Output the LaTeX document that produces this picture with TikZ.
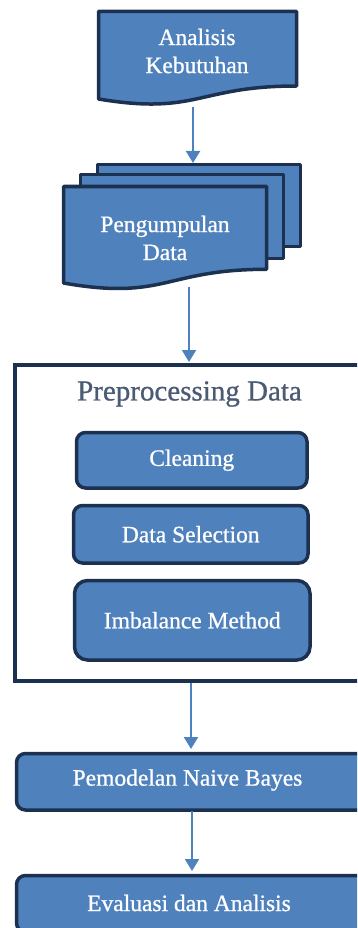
\documentclass[tikz,border=0pt]{standalone}
\usepackage{fontspec}
\setmainfont{Liberation Serif}
\newfontfamily\boxfont[FakeBold=0.8]{Liberation Serif}
\usetikzlibrary{arrows.meta}
\definecolor{steel}{HTML}{4F81BD}
\definecolor{navy}{HTML}{1C3150}
\definecolor{titlegray}{HTML}{4B5B74}
\newcommand{\mainsz}{\boxfont\fontsize{23.5}{28}\selectfont}
\newcommand{\titlesz}{\boxfont\fontsize{29}{34}\selectfont}
\tikzset{
  shapebox/.style={draw=navy, fill=steel, line width=3.5pt, line join=round},
  proc/.style={draw=navy, fill=steel, line width=3.5pt, rounded corners=9pt,
    text=white, font=\mainsz, inner sep=0pt, anchor=north west},
  doctext/.style={text=white, font=\mainsz, align=center, inner sep=0pt},
  frame/.style={draw=navy, line width=4pt},
  arr/.style={draw=steel, line width=2pt, -{Triangle[length=12pt,width=14pt]}},
}
\begin{document}
\begin{tikzpicture}[x=1pt,y=-1pt]
\clip (0,0) rectangle (357,928);
\fill[white] (0,0) rectangle (357,928);
% Analisis Kebutuhan (document shape)
\draw[shapebox] (98.5,11.5) -- (296.5,11.5) -- (296.5,86)
  .. controls (197.5,86) and (197.5,115.5) .. (98.5,99) -- cycle;
\node[doctext] (ana) at (197,51) {Analisis\\Kebutuhan};
% Pengumpulan Data (multi-document)
\draw[shapebox] (97.5,164.5) rectangle (300.5,246.5);
\draw[shapebox] (80.5,174.5) rectangle (283.5,258.5);
\draw[shapebox] (63.5,186.5) -- (266.5,186.5) -- (266.5,269.3)
  .. controls (165,269.3) and (165,300.9) .. (63.5,283) -- cycle;
\node[doctext] (peng) at (165,238) {Pengumpulan\\Data};
% Preprocessing frame
\draw[frame] (15,365) rectangle (372,680.5);
\node[text=titlegray, font=\titlesz, inner sep=0pt] (pre) at (189.5,394) {Preprocessing Data};
\node[proc, minimum width=230.5pt, minimum height=55.5pt] (clean) at (74.75,430.75) {Cleaning};
\node[proc, minimum width=234.5pt, minimum height=57.5pt] (sel) at (71.75,503.75) {Data Selection};
\node[proc, minimum width=235.5pt, minimum height=79.5pt, rounded corners=13pt] (imb) at (72.75,578.75) {Imbalance Method};
% bottom boxes
\node[proc, minimum width=350pt, minimum height=56.5pt] (model) at (14.75,751.75) {};
\node[text=white, font=\mainsz, inner sep=0pt] (modelt) at (187.5,780) {Pemodelan Naive Bayes};
\node[proc, minimum width=350pt, minimum height=56.5pt] (eval) at (14.75,873.75) {};
\node[text=white, font=\mainsz, inner sep=0pt] (evalt) at (189,903) {Evaluasi dan Analisis};
% connector end points
\coordinate (a1s) at (193,107);
\coordinate (a1e) at (193,163);
\coordinate (a2s) at (189,287);
\coordinate (a2e) at (189,362);
\coordinate (a3s) at (191,683);
\coordinate (a3e) at (191,749);
\coordinate (a4s) at (192,811);
\coordinate (a4e) at (192,871);
\draw[arr] (a1s) -- (a1e);
\draw[arr] (a2s) -- (a2e);
\draw[arr] (a3s) -- (a3e);
\draw[arr] (a4s) -- (a4e);
\end{tikzpicture}
\end{document}
